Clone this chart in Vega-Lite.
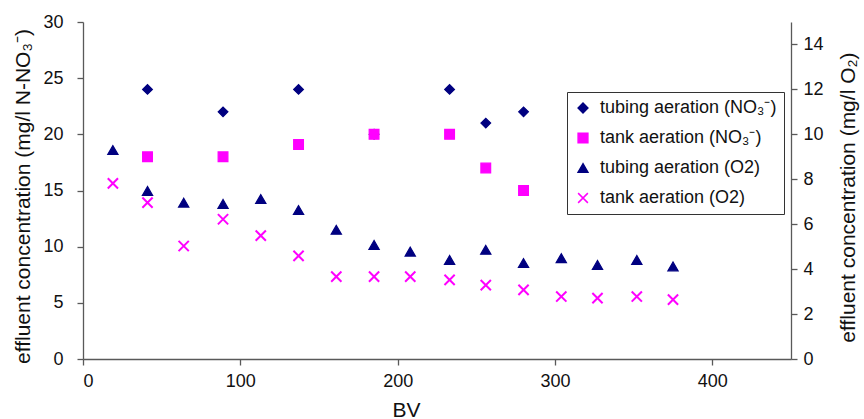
{
  "$schema": "https://vega.github.io/schema/vega-lite/v6.json",
  "width": 708,
  "height": 337,
  "autosize": {"type": "none"},
  "padding": {"left": 83, "top": 22, "right": 73, "bottom": 60},
  "background": "white",
  "config": {
    "view": {"stroke": null},
    "font": "Liberation Sans",
    "axis": {
      "grid": false,
      "domainColor": "#595959",
      "domainWidth": 1.3,
      "tickColor": "#595959",
      "tickWidth": 1.3,
      "tickSize": 6,
      "labelFont": "Liberation Sans",
      "labelFontSize": 18,
      "labelColor": "#111111",
      "titleFont": "Liberation Sans",
      "titleFontSize": 21,
      "titleFontWeight": "normal",
      "titleColor": "#111111"
    },
    "legend": {
      "strokeColor": "#333333",
      "strokeWidth": 1,
      "fillColor": "white",
      "labelLimit": 0
    }
  },
  "datasets": {
    "no3": [
      {"BV": 41, "value": 24, "series": "tubing aeration (NO₃⁻)"},
      {"BV": 89, "value": 22, "series": "tubing aeration (NO₃⁻)"},
      {"BV": 137, "value": 24, "series": "tubing aeration (NO₃⁻)"},
      {"BV": 185, "value": 20, "series": "tubing aeration (NO₃⁻)"},
      {"BV": 233, "value": 24, "series": "tubing aeration (NO₃⁻)"},
      {"BV": 256, "value": 21, "series": "tubing aeration (NO₃⁻)"},
      {"BV": 280, "value": 22, "series": "tubing aeration (NO₃⁻)"},
      {"BV": 41, "value": 18, "series": "tank aeration (NO₃⁻)"},
      {"BV": 89, "value": 18, "series": "tank aeration (NO₃⁻)"},
      {"BV": 137, "value": 19.1, "series": "tank aeration (NO₃⁻)"},
      {"BV": 185, "value": 20, "series": "tank aeration (NO₃⁻)"},
      {"BV": 233, "value": 20, "series": "tank aeration (NO₃⁻)"},
      {"BV": 256, "value": 17, "series": "tank aeration (NO₃⁻)"},
      {"BV": 280, "value": 15, "series": "tank aeration (NO₃⁻)"}
    ],
    "o2": [
      {"BV": 19, "value": 9.3, "series": "tubing aeration (O2)"},
      {"BV": 41, "value": 7.48, "series": "tubing aeration (O2)"},
      {"BV": 64, "value": 6.96, "series": "tubing aeration (O2)"},
      {"BV": 89, "value": 6.9, "series": "tubing aeration (O2)"},
      {"BV": 113, "value": 7.12, "series": "tubing aeration (O2)"},
      {"BV": 137, "value": 6.63, "series": "tubing aeration (O2)"},
      {"BV": 161, "value": 5.75, "series": "tubing aeration (O2)"},
      {"BV": 185, "value": 5.08, "series": "tubing aeration (O2)"},
      {"BV": 208, "value": 4.78, "series": "tubing aeration (O2)"},
      {"BV": 233, "value": 4.41, "series": "tubing aeration (O2)"},
      {"BV": 256, "value": 4.86, "series": "tubing aeration (O2)"},
      {"BV": 280, "value": 4.27, "series": "tubing aeration (O2)"},
      {"BV": 304, "value": 4.49, "series": "tubing aeration (O2)"},
      {"BV": 327, "value": 4.19, "series": "tubing aeration (O2)"},
      {"BV": 352, "value": 4.41, "series": "tubing aeration (O2)"},
      {"BV": 375, "value": 4.12, "series": "tubing aeration (O2)"},
      {"BV": 19, "value": 7.82, "series": "tank aeration (O2)"},
      {"BV": 41, "value": 6.96, "series": "tank aeration (O2)"},
      {"BV": 64, "value": 5.03, "series": "tank aeration (O2)"},
      {"BV": 89, "value": 6.22, "series": "tank aeration (O2)"},
      {"BV": 113, "value": 5.49, "series": "tank aeration (O2)"},
      {"BV": 137, "value": 4.59, "series": "tank aeration (O2)"},
      {"BV": 161, "value": 3.67, "series": "tank aeration (O2)"},
      {"BV": 185, "value": 3.67, "series": "tank aeration (O2)"},
      {"BV": 208, "value": 3.67, "series": "tank aeration (O2)"},
      {"BV": 233, "value": 3.52, "series": "tank aeration (O2)"},
      {"BV": 256, "value": 3.29, "series": "tank aeration (O2)"},
      {"BV": 280, "value": 3.08, "series": "tank aeration (O2)"},
      {"BV": 304, "value": 2.78, "series": "tank aeration (O2)"},
      {"BV": 327, "value": 2.71, "series": "tank aeration (O2)"},
      {"BV": 352, "value": 2.78, "series": "tank aeration (O2)"},
      {"BV": 375, "value": 2.64, "series": "tank aeration (O2)"}
    ]
  },
  "layer": [
    {
      "data": {"name": "no3"},
      "mark": {"type": "point", "filled": true, "size": 95, "strokeWidth": 1.2, "opacity": 1},
      "encoding": {
        "x": {
          "field": "BV", "type": "quantitative",
          "scale": {"domain": [0, 450], "nice": false, "zero": false},
          "axis": {"values": [0, 100, 200, 300, 400], "title": "BV", "labelPadding": 7, "titleX": 323, "titleY": 40}
        },
        "y": {
          "field": "value", "type": "quantitative",
          "scale": {"domain": [0, 30], "nice": false},
          "axis": {"orient": "left", "values": [0, 5, 10, 15, 20, 25, 30], "title": "effluent concentration (mg/l N-NO₃⁻)", "labelPadding": 14, "titleX": -50, "titleY": 174, "titleAngle": 270, "titleBaseline": "bottom"}
        },
        "fill": {
          "field": "series", "type": "nominal",
          "scale": {"domain": ["tubing aeration (NO₃⁻)", "tank aeration (NO₃⁻)", "tubing aeration (O2)", "tank aeration (O2)"], "range": ["#000080", "#FF00FF", "#000080", "#FF00FF"]},
          "legend": {"orient": "none", "legendX": 484, "legendY": 70, "title": null, "padding": 7, "labelFont": "Liberation Sans", "labelFontSize": 18, "labelColor": "#111111", "rowPadding": 12, "symbolSize": 95, "symbolStrokeWidth": 1.5, "labelOffset": 8, "labelLimit": 0}
        },
        "stroke": {
          "field": "series", "type": "nominal",
          "scale": {"domain": ["tubing aeration (NO₃⁻)", "tank aeration (NO₃⁻)", "tubing aeration (O2)", "tank aeration (O2)"], "range": ["#000080", "#FF00FF", "#000080", "#FF00FF"]},
          "legend": {"orient": "none", "legendX": 484, "legendY": 70, "title": null, "padding": 7, "labelFont": "Liberation Sans", "labelFontSize": 18, "labelColor": "#111111", "rowPadding": 12, "symbolSize": 95, "symbolStrokeWidth": 1.5, "labelOffset": 8, "labelLimit": 0}
        },
        "shape": {
          "field": "series", "type": "nominal",
          "scale": {"domain": ["tubing aeration (NO₃⁻)", "tank aeration (NO₃⁻)", "tubing aeration (O2)", "tank aeration (O2)"], "range": ["diamond", "square", "triangle-up", "M-1,-1L1,1M1,-1L-1,1"]},
          "legend": {"orient": "none", "legendX": 484, "legendY": 70, "title": null, "padding": 7, "labelFont": "Liberation Sans", "labelFontSize": 18, "labelColor": "#111111", "rowPadding": 12, "symbolSize": 95, "symbolStrokeWidth": 1.5, "labelOffset": 8, "labelLimit": 0}
        }
      }
    },
    {
      "data": {"name": "o2"},
      "mark": {"type": "point", "filled": true, "size": 105, "opacity": 1},
      "encoding": {
        "x": {
          "field": "BV", "type": "quantitative",
          "scale": {"domain": [0, 450], "nice": false, "zero": false},
          "axis": {"values": [0, 100, 200, 300, 400], "title": "BV", "labelPadding": 7, "titleX": 323, "titleY": 40}
        },
        "y": {
          "field": "value", "type": "quantitative",
          "scale": {"domain": [0, 15], "nice": false},
          "axis": {"orient": "right", "values": [0, 2, 4, 6, 8, 10, 12, 14], "title": "effluent concentration (mg/l O₂)", "labelPadding": 6, "titleX": 67, "titleY": 175, "titleAngle": 270, "titleBaseline": "bottom"}
        },
        "strokeWidth": {"condition": {"test": "datum.series === 'tank aeration (O2)'", "value": 2}, "value": 1.2},
        "fill": {
          "field": "series", "type": "nominal",
          "scale": {"domain": ["tubing aeration (NO₃⁻)", "tank aeration (NO₃⁻)", "tubing aeration (O2)", "tank aeration (O2)"], "range": ["#000080", "#FF00FF", "#000080", "#FF00FF"]},
          "legend": {"orient": "none", "legendX": 484, "legendY": 70, "title": null, "padding": 7, "labelFont": "Liberation Sans", "labelFontSize": 18, "labelColor": "#111111", "rowPadding": 12, "symbolSize": 95, "symbolStrokeWidth": 1.5, "labelOffset": 8, "labelLimit": 0}
        },
        "stroke": {
          "field": "series", "type": "nominal",
          "scale": {"domain": ["tubing aeration (NO₃⁻)", "tank aeration (NO₃⁻)", "tubing aeration (O2)", "tank aeration (O2)"], "range": ["#000080", "#FF00FF", "#000080", "#FF00FF"]},
          "legend": {"orient": "none", "legendX": 484, "legendY": 70, "title": null, "padding": 7, "labelFont": "Liberation Sans", "labelFontSize": 18, "labelColor": "#111111", "rowPadding": 12, "symbolSize": 95, "symbolStrokeWidth": 1.5, "labelOffset": 8, "labelLimit": 0}
        },
        "shape": {
          "field": "series", "type": "nominal",
          "scale": {"domain": ["tubing aeration (NO₃⁻)", "tank aeration (NO₃⁻)", "tubing aeration (O2)", "tank aeration (O2)"], "range": ["diamond", "square", "triangle-up", "M-1,-1L1,1M1,-1L-1,1"]},
          "legend": {"orient": "none", "legendX": 484, "legendY": 70, "title": null, "padding": 7, "labelFont": "Liberation Sans", "labelFontSize": 18, "labelColor": "#111111", "rowPadding": 12, "symbolSize": 95, "symbolStrokeWidth": 1.5, "labelOffset": 8, "labelLimit": 0}
        }
      }
    }
  ],
  "resolve": {"scale": {"y": "independent"}}
}
